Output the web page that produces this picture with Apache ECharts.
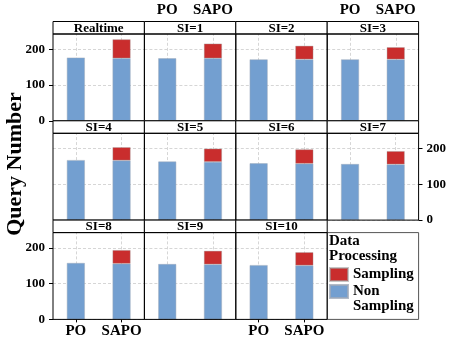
<!DOCTYPE html>
<html><head><meta charset="utf-8">
<script src="https://cdn.jsdelivr.net/npm/echarts@6/dist/echarts.min.js"></script>
<style>html,body{margin:0;padding:0;background:#fff}#c{width:449px;height:343px}</style>
</head><body><div id="c"></div>
<script>
// ---- data ----
const panels = ['Realtime','SI=1','SI=2','SI=3','SI=4','SI=5','SI=6','SI=7','SI=8','SI=9','SI=10'];
const categories = ['PO','SAPO'];
const poNonSampling   = [177, 175, 172, 172, 168, 164, 159, 157, 158, 155, 152];
const sapoNonSampling = [175, 175, 172, 172, 167, 163, 158, 156, 156, 154, 151];
const sapoSampling    = [ 53,  41,  38,  34,  37,  37,  40,  37,  38,  38,  37];
const yTickLabels = [0, 100, 200];
const yGridStep = 50;
const yMax = 243;
const seriesNames = ['Sampling', 'Non Sampling'];
const legendTitle = 'Data\nProcessing';
const axisTitle = 'Query Number';

// ---- layout / style ----
const FONT = '"Liberation Serif", "DejaVu Serif", serif';
const RED = '#c92d2d', BLUE = '#739fd0';
const colLeft = c => 53 + c * 91.4;
const colW = 91.4;
const rowTop = r => 21.5 + r * 99.3;
const stripH = 12.5;
const plotH = 99.3 - stripH;
const gridLine = {color: '#d6d6d6', width: 1, type: [3, 2]};

const chart = echarts.init(document.getElementById('c'), null, {renderer: 'canvas'});
const grids = [], xAxes = [], yAxes = [], series = [], graphics = [];

panels.forEach((name, i) => {
  const r = Math.floor(i / 4), c = i % 4;
  const left = colLeft(c), top = rowTop(r) + stripH;
  grids.push({left: left, top: top, width: colW, height: plotH, containLabel: false});
  const showX = (r === 0 && (c === 1 || c === 3)) || (r === 2 && (c === 0 || c === 2));
  const showY = (c === 0 && r !== 1) || (c === 3 && r === 1);
  xAxes.push({
    gridIndex: i, type: 'category', data: categories,
    position: r === 0 ? 'top' : 'bottom',
    offset: r === 0 ? stripH : 0,
    axisLine: {show: false},
    axisTick: {show: showX, length: 3, interval: 0, alignWithLabel: true, lineStyle: {color: '#000'}},
    axisLabel: {show: showX, interval: 0, hideOverlap: false, margin: 4, fontFamily: FONT, fontWeight: 'bold', fontSize: 15, color: '#000'},
    splitLine: {show: false}
  });
  yAxes.push({
    gridIndex: i, type: 'value', min: 0, max: yMax, interval: yGridStep,
    position: (r === 1 && c === 3) ? 'right' : 'left',
    axisLine: {show: false},
    axisTick: {show: showY, length: 4, customValues: yTickLabels, lineStyle: {color: '#000'}},
    axisLabel: {show: showY, customValues: yTickLabels, margin: 8, fontFamily: FONT, fontWeight: 'bold', fontSize: 13, color: '#000'},
    splitLine: {show: true, lineStyle: gridLine}
  });
  series.push({
    type: 'bar', name: seriesNames[1], xAxisIndex: i, yAxisIndex: i, stack: 'p' + i,
    data: [poNonSampling[i], sapoNonSampling[i]], barWidth: 18,
    itemStyle: {color: BLUE, borderColor: 'rgba(160,170,185,0.8)', borderWidth: 0.6},
    markLine: {
      silent: true, z: 1, symbol: 'none', animation: false,
      label: {show: false}, emphasis: {disabled: true},
      lineStyle: gridLine,
      data: categories.map(cat => ({xAxis: cat}))
    }
  });
  series.push({
    type: 'bar', name: seriesNames[0], xAxisIndex: i, yAxisIndex: i, stack: 'p' + i,
    data: ['-', sapoSampling[i]], barWidth: 18,
    itemStyle: {color: RED, borderColor: 'rgba(160,160,160,0.6)', borderWidth: 0.6}
  });
  // strip
  graphics.push({type: 'rect', z: 100, shape: {x: left, y: rowTop(r), width: colW, height: stripH},
    style: {fill: '#fff', stroke: '#000', lineWidth: 1}});
  graphics.push({type: 'text', z: 101, x: left + colW / 2, y: rowTop(r) + stripH / 2 + 0.5,
    style: {text: name, fontFamily: FONT, fontWeight: 'bold', fontSize: 13, fill: '#000', align: 'center', verticalAlign: 'middle'}});
  // panel border
  graphics.push({type: 'rect', z: 100, shape: {x: left, y: top, width: colW, height: plotH},
    style: {fill: 'none', stroke: '#000', lineWidth: 1}});
});

// legend box in last slot
graphics.push({type: 'rect', z: 99, shape: {x: colLeft(3), y: rowTop(2) + stripH, width: colW, height: plotH},
  style: {fill: 'none', stroke: '#555', lineWidth: 1}});
graphics.push({type: 'text', z: 101, x: 15, y: 164, rotation: Math.PI / 2,
  style: {text: axisTitle, fontFamily: FONT, fontWeight: 'bold', fontSize: 22, fill: '#000', align: 'center', verticalAlign: 'middle'}});

const legendText = {fontFamily: FONT, fontWeight: 'bold', fontSize: 15, lineHeight: 15, color: '#000'};
chart.setOption({
  animation: false,
  title: {text: legendTitle, left: 329, top: 234, padding: 0,
    textStyle: Object.assign({}, legendText)},
  legend: [
    {data: [seriesNames[0]], left: 329, top: 267, padding: 0, icon: 'rect', itemWidth: 18, itemHeight: 13,
      textStyle: legendText},
    {data: [seriesNames[1]], left: 329, top: 269, padding: 0,
      icon: 'rect', itemWidth: 18, itemHeight: 13,
      textStyle: legendText,
      formatter: n => '\n' + n.split(' ').join('\n')}
  ],
  grid: grids, xAxis: xAxes, yAxis: yAxes, series: series, graphic: graphics
});
</script></body></html>
